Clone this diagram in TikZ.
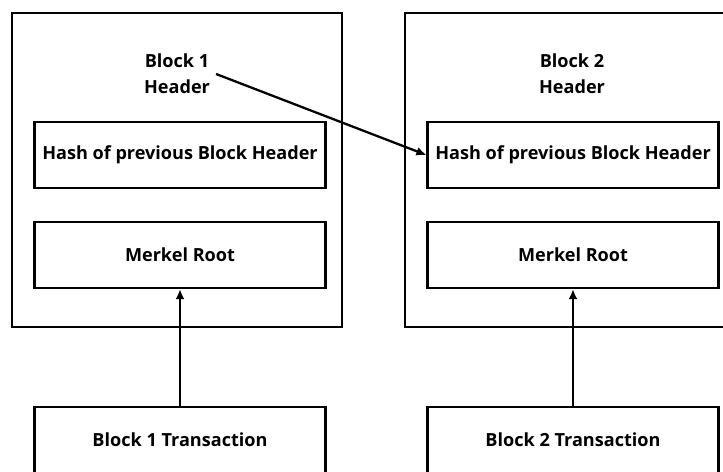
\documentclass[tikz,border=0pt]{standalone}
\usepackage{fontspec}
\setmainfont{Open Sans}
\usetikzlibrary{
  arrows.meta,
  positioning
}
\tikzset{
  block/.style={
    draw, line width=1.3pt,
    minimum width=6.6cm, minimum height=6.28cm
  },
  field/.style={
    draw, line width=1.3pt,
    minimum width=5.82cm, minimum height=1.32cm,
    font=\fontsize{10.3}{14.7}\selectfont\bfseries
  },
  title/.style={
    align=center,
    font=\fontsize{10.3}{14.7}\selectfont\bfseries
  },
  link/.style={
    line width=1.3pt,
    -{Latex[length=2mm,width=1.8mm]}
  }
}

\begin{document}
\begin{tikzpicture}[x=0.02cm,y=-0.02cm]
\useasboundingbox (0,0) rectangle (723,471);
\clip (0,0) rectangle (723,471);
% the two blocks
\node[block] (blk1) at (177,170) {};
\node[block] (blk2) at (570,170) {};
\node[title] (head1) at (177,74) {Block 1\\Header};
\node[title] (head2) at (572,74) {Block 2\\Header};
% fields inside each header
\node[field] (hash1) at (180,155) {Hash of previous Block Header};
\node[field] (merkel1) at (180,255) {Merkel Root};
\node[field] (hash2) at (573,155) {Hash of previous Block Header};
\node[field] (merkel2) at (573,255) {Merkel Root};
% transactions below
\node[field] (trans1) at (180,440) {Block 1 Transaction};
\node[field] (trans2) at (573,440) {Block 2 Transaction};
\draw[link] (trans1) -- (merkel1);
\draw[link] (trans2) -- (merkel2);
\draw[link] (head1.east) -- (hash2.west);
\end{tikzpicture}
\end{document}
